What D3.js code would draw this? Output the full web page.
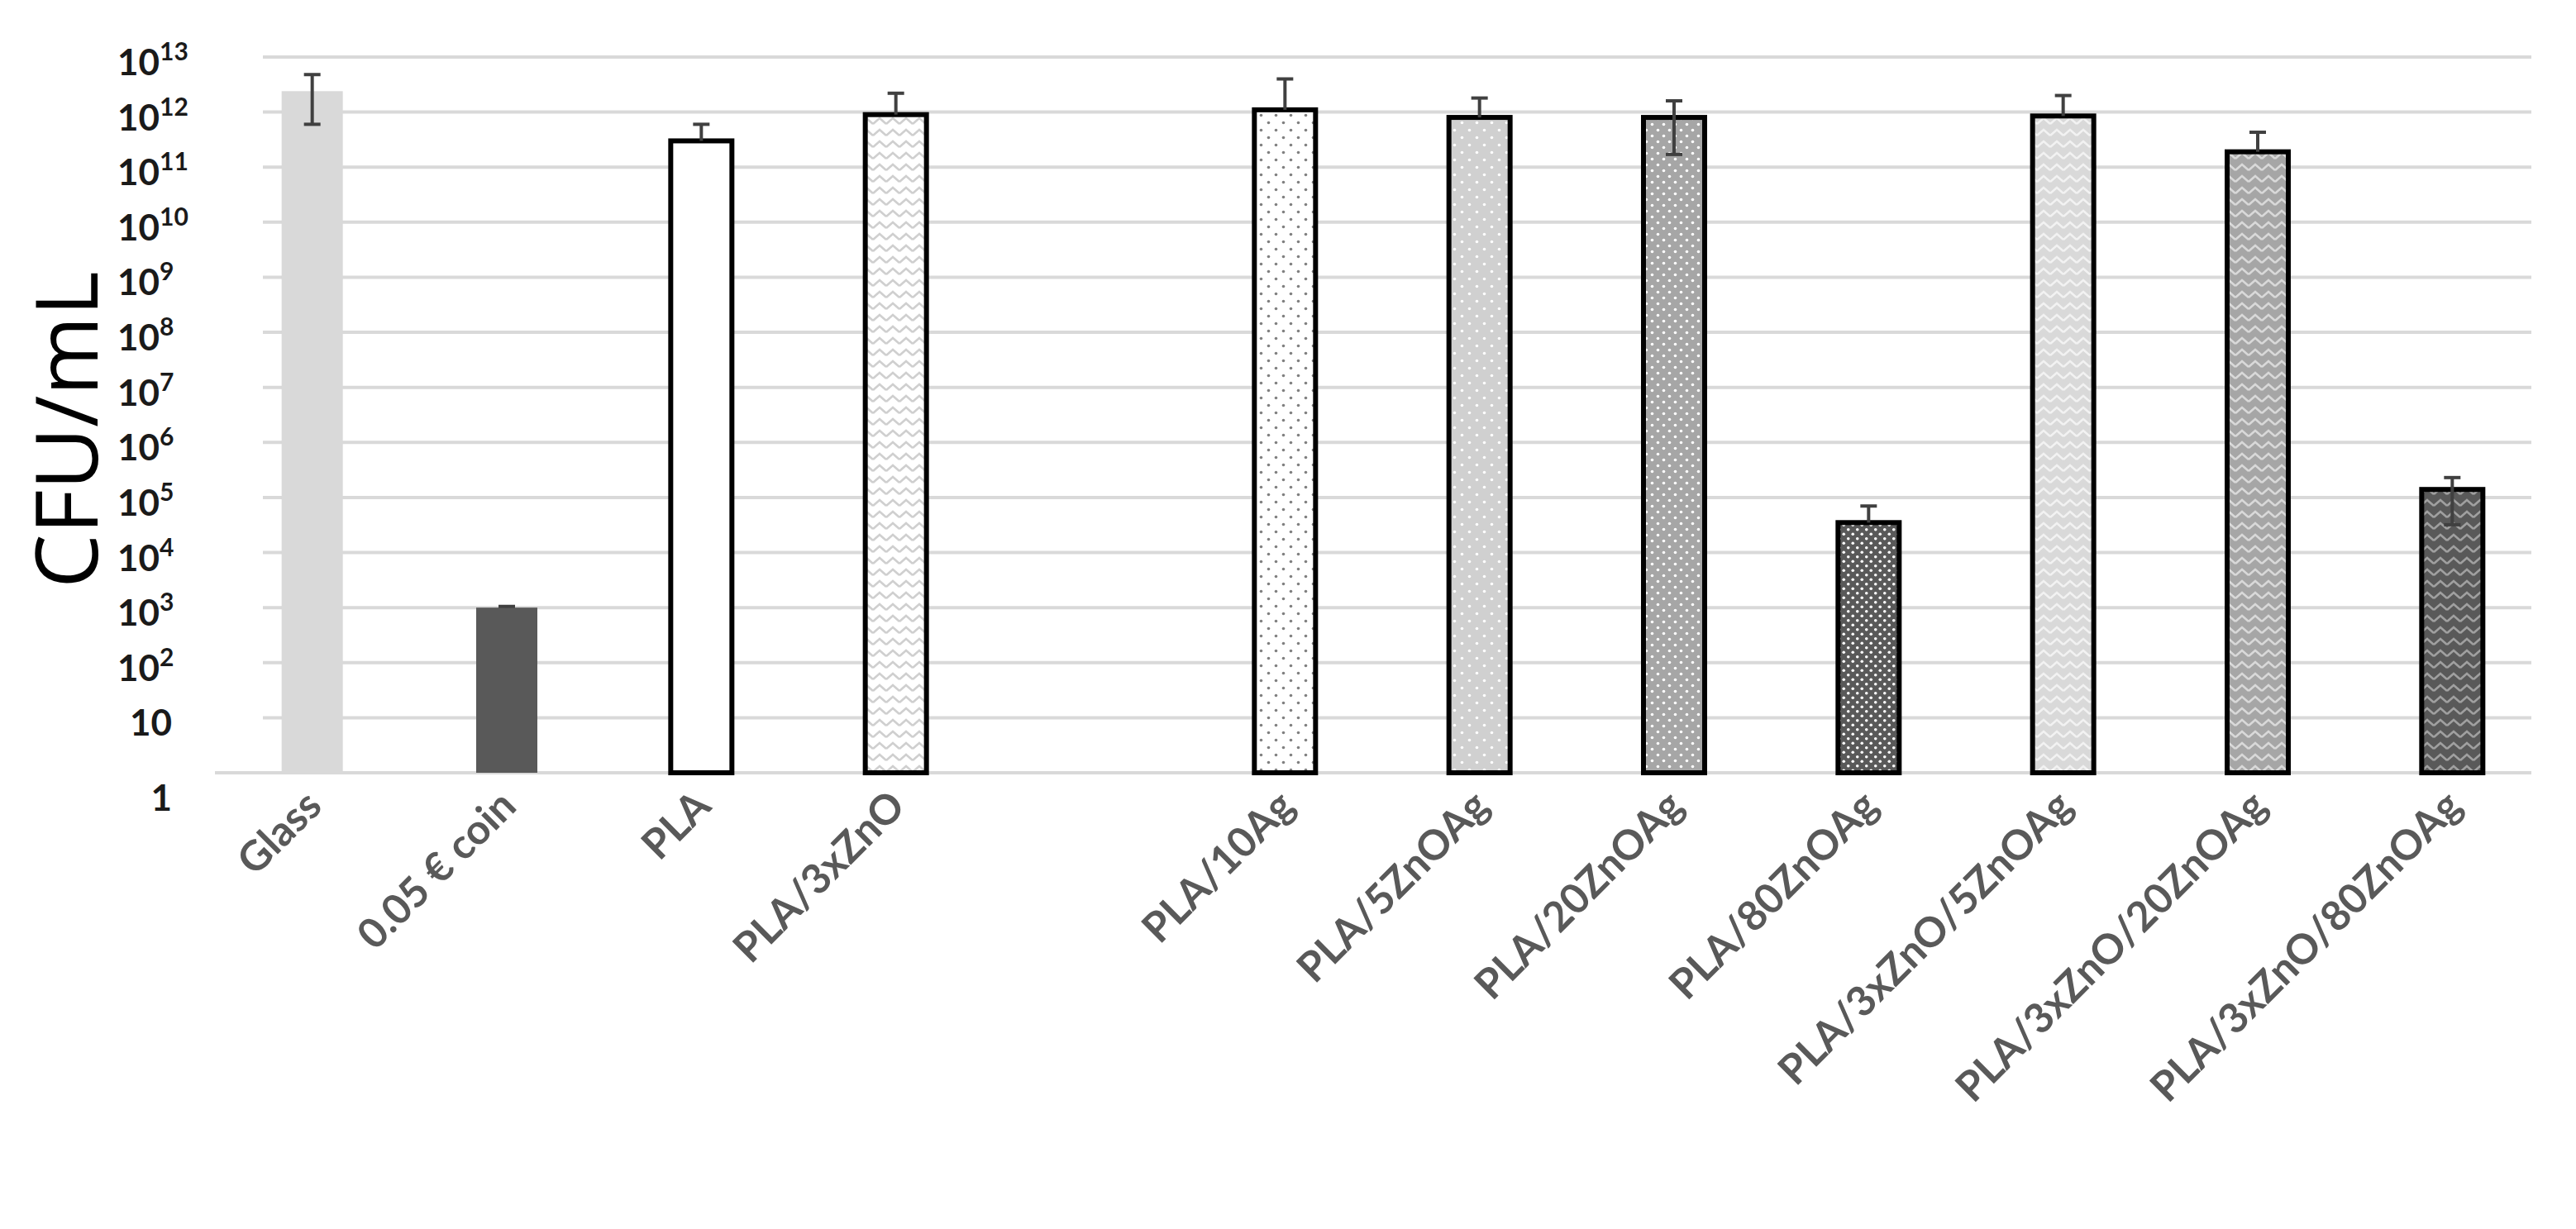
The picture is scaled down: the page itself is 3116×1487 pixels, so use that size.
<!DOCTYPE html>
<html><head><meta charset="utf-8">
<script src="https://cdn.jsdelivr.net/npm/d3@7"></script>
<style>body{margin:0;background:#fff}</style>
</head><body>
<script>
// chart values
var categories = ["Glass", "0.05 € coin", "PLA", "PLA/3xZnO", "", "PLA/10Ag", "PLA/5ZnOAg", "PLA/20ZnOAg",
    "PLA/80ZnOAg", "PLA/3xZnO/5ZnOAg", "PLA/3xZnO/20ZnOAg", "PLA/3xZnO/80ZnOAg"];
var values   = [2.4e12, 1e3, 3e11, 9e11, null, 1.1e12, 8e11, 8e11, 3.5e4, 8.5e11, 1.9e11, 1.4e5];
var errUpper = [4.8e12, 1.05e3, 6e11, 2.2e12, null, 4e12, 1.8e12, 1.6e12, 7e4, 2e12, 4.3e11, 2.3e5];
var errLower = [6e11, 1e3, 3e11, 9e11, null, 1.1e12, 8e11, 1.7e11, 3.5e4, 8.5e11, 1.9e11, 3.2e4];
var fills    = ["#d9d9d9", "#595959", "#ffffff", "zig0", null, "dot0", "dot1", "dot2", "dot3", "zig1", "zig2", "zig3"];
var tickExps = [0,1,2,3,4,5,6,7,8,9,10,11,12,13];

var W = 3116, H = 1487;
var svg = d3.select("body").append("svg").attr("width", W).attr("height", H)
    .style("font-family", "Lato, 'Open Sans', sans-serif");

var defs = svg.append("defs");
// dotted patterns
[["dot0","#ffffff","#808080",18],["dot1","#d0d0d0","#ffffff",18],["dot2","#a6a6a6","#ffffff",14],["dot3","#595959","#ffffff",11]]
.forEach(function(p){
    var pat = defs.append("pattern").attr("id", p[0]).attr("patternUnits","userSpaceOnUse")
        .attr("width", p[3]).attr("height", p[3]);
    pat.append("rect").attr("width", p[3]).attr("height", p[3]).attr("fill", p[1]);
    pat.append("circle").attr("cx", p[3]/4).attr("cy", p[3]/4).attr("r", 1.8).attr("fill", p[2]);
    pat.append("circle").attr("cx", p[3]*3/4).attr("cy", p[3]*3/4).attr("r", 1.8).attr("fill", p[2]);
});
// zigzag patterns
[["zig0","#ffffff","#cfcfcf"],["zig1","#d9d9d9","#f2f2f2"],["zig2","#a6a6a6","#d9d9d9"],["zig3","#595959","#a0a0a0"]]
.forEach(function(p){
    var pat = defs.append("pattern").attr("id", p[0]).attr("patternUnits","userSpaceOnUse")
        .attr("width", 16).attr("height", 14);
    pat.append("rect").attr("width", 16).attr("height", 14).attr("fill", p[1]);
    pat.append("path").attr("d", "M0,10 L8,3 L16,10").attr("fill","none").attr("stroke", p[2]).attr("stroke-width", 2.5);
});

var x = d3.scaleBand().domain(d3.range(categories.length)).range([260, 3084]);
var y = d3.scaleLog().domain([1, 1e13]).range([935, 69]);

// gridlines
svg.append("g").selectAll("line").data(tickExps).join("line")
    .attr("x1", function(d){ return d === 0 ? 260 : 318; }).attr("x2", 3062)
    .attr("y1", function(d){ return y(Math.pow(10,d)); }).attr("y2", function(d){ return y(Math.pow(10,d)); })
    .attr("stroke", "#d9d9d9").attr("stroke-width", 4);

// y tick labels
var tl = svg.append("g").selectAll("text").data(tickExps).join("text")
    .attr("x", function(d){ return d < 2 ? 208 : 178; })
    .attr("y", function(d){ return y(Math.pow(10,d)) + (d === 0 ? 46 : 22); })
    .attr("text-anchor", function(d){ return d < 2 ? "end" : "start"; })
    .attr("font-size", 44).attr("font-weight", "bold").attr("fill", "#1a1a1a");
tl.each(function(d){
    var t = d3.select(this);
    if (d === 0) t.text("1");
    else if (d === 1) t.text("10");
    else {
        t.append("tspan").text("10").attr("x", 142);
        t.append("tspan").text(d).attr("font-size", 30).attr("dy", -18);
    }
});

svg.append("text").attr("transform", "translate(118,520) rotate(-90)")
    .attr("text-anchor", "middle").attr("font-size", 104).attr("fill", "#000")
    .attr("font-family", "'Open Sans', sans-serif").text("CFU/mL");

var bw = 74;
var idx = d3.range(categories.length).filter(function(i){ return values[i] !== null; });

// bars
svg.append("g").selectAll("rect").data(idx).join("rect")
    .attr("x", function(i){ return x(i) + x.bandwidth()/2 - bw/2; })
    .attr("y", function(i){ return y(values[i]); })
    .attr("width", bw)
    .attr("height", function(i){ return y(1) - y(values[i]); })
    .attr("fill", function(i){ return fills[i].charAt(0) === "#" ? fills[i] : "url(#" + fills[i] + ")"; })
    .attr("stroke", function(i){ return i < 2 ? "none" : "#000"; })
    .attr("stroke-width", 6);

// error bars
var eb = svg.append("g").attr("stroke", "#404040").attr("stroke-width", 4);
idx.forEach(function(i){
    var cx = x(i) + x.bandwidth()/2;
    eb.append("line").attr("x1", cx).attr("x2", cx).attr("y1", y(errUpper[i])).attr("y2", y(errLower[i]));
    eb.append("line").attr("x1", cx-10).attr("x2", cx+10).attr("y1", y(errUpper[i])).attr("y2", y(errUpper[i]));
    if (errLower[i] < values[i])
        eb.append("line").attr("x1", cx-10).attr("x2", cx+10).attr("y1", y(errLower[i])).attr("y2", y(errLower[i]));
});

// x labels
svg.append("g").selectAll("text").data(idx).join("text")
    .attr("transform", function(i){ return "translate(" + (x(i) + x.bandwidth()/2 + 14) + ",978) rotate(-45)"; })
    .attr("text-anchor", "end").attr("font-size", 50).attr("font-weight", "bold").attr("fill", "#595959")
    .text(function(i){ return categories[i]; });
</script>
</body></html>
